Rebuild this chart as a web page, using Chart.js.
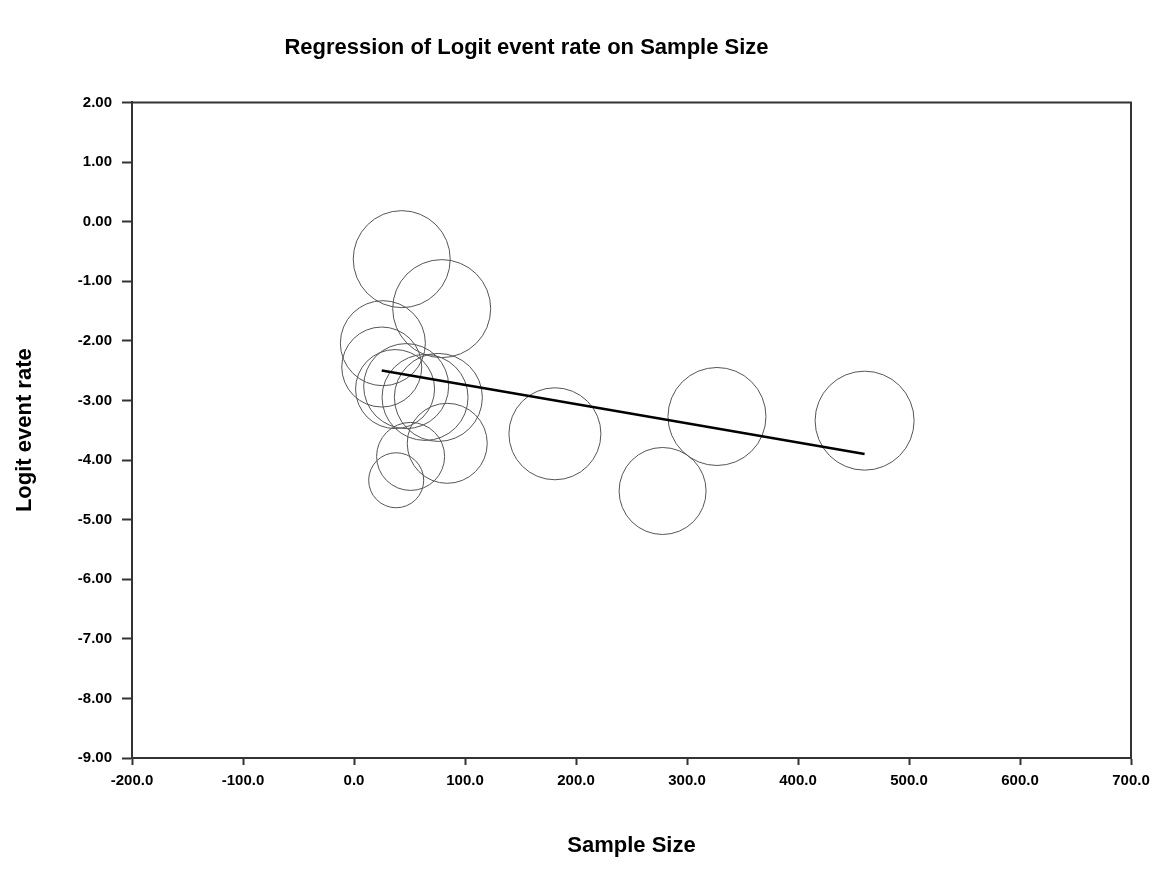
<!DOCTYPE html>
<html>
<head>
<meta charset="utf-8">
<title>Regression of Logit event rate on Sample Size</title>
<script src="https://cdn.jsdelivr.net/npm/chart.js@4.4.1/dist/chart.umd.min.js"></script>
<style>
  html, body { margin: 0; padding: 0; background: #fff; }
  #chart { display: block; }
</style>
</head>
<body>
<canvas id="chart" width="1153" height="875"></canvas>
<script>
// studies: sample size, logit event rate, relative weight (circle size)
const sampleSize = [43, 79, 26, 25, 37, 47, 64, 76, 51, 38, 84, 181, 278, 327, 460];
const logitRate  = [-0.63, -1.46, -2.04, -2.44, -2.81, -2.76, -2.95, -2.95, -3.94, -4.34, -3.72, -3.56, -4.52, -3.27, -3.34];
const weights    = [0.97, 0.98, 0.85, 0.80, 0.79, 0.85, 0.86, 0.88, 0.68, 0.55, 0.80, 0.92, 0.87, 0.98, 0.99];

// regression line end points
const regX = [25, 460];
const regY = [-2.50, -3.90];

const xTicks = [-200, -100, 0, 100, 200, 300, 400, 500, 600, 700];
const yTicks = [2, 1, 0, -1, -2, -3, -4, -5, -6, -7, -8, -9];

const RADIUS_PER_WEIGHT = 50;
const FONT = "'Liberation Sans', Arial, Helvetica, sans-serif";

const bubbles = sampleSize.map((x, i) => ({ x: x, y: logitRate[i], r: weights[i] * RADIUS_PER_WEIGHT }));
const regLine = regX.map((x, i) => ({ x: x, y: regY[i] }));

// top and right sides of the plot frame
const frameBox = {
    id: 'frameBox',
    afterLayout(chart) {
        // the title sits a bit left of the page centre
        if (chart.titleBlock) {
            chart.titleBlock.left = 0;
            chart.titleBlock.right = chart.width - 100;
        }
    },
    afterDraw(chart) {
        const { ctx, chartArea: a } = chart;
        ctx.save();
        ctx.strokeStyle = '#333';
        ctx.lineWidth = 2;
        ctx.beginPath();
        ctx.moveTo(a.left, a.top);
        ctx.lineTo(a.right, a.top);
        ctx.lineTo(a.right, a.bottom);
        ctx.stroke();
        ctx.restore();
    }
};

new Chart(document.getElementById('chart'), {
    type: 'bubble',
    data: {
        datasets: [
            {
                type: 'line',
                data: regLine,
                borderColor: '#000',
                borderWidth: 2.5,
                pointRadius: 0,
                fill: false,
                order: 0
            },
            {
                type: 'bubble',
                data: bubbles,
                backgroundColor: 'rgba(0,0,0,0)',
                borderColor: '#555',
                borderWidth: 1,
                order: 1
            }
        ]
    },
    options: {
        responsive: false,
        animation: false,
        layout: { padding: 0, autoPadding: false },
        plugins: {
            legend: { display: false },
            tooltip: { enabled: false },
            title: {
                display: true,
                text: 'Regression of Logit event rate on Sample Size',
                color: '#000',
                font: { family: FONT, size: 22, weight: 'bold' },
                padding: { top: 35, bottom: 41 }
            }
        },
        scales: {
            x: {
                type: 'linear',
                min: -200,
                max: 700,
                afterBuildTicks: s => { s.ticks = xTicks.map(v => ({ value: v })); },
                afterFit: s => { s.height = 117; s.paddingRight = 22; s.paddingLeft = 0; },
                ticks: {
                    color: '#000',
                    font: { family: FONT, size: 15, weight: 'bold' },
                    padding: 7,
                    maxRotation: 0,
                    callback: v => Number(v).toFixed(1)
                },
                grid: { drawOnChartArea: false, drawTicks: true, tickLength: 7, color: '#333', tickWidth: 2 },
                border: { display: true, color: '#333', width: 2 },
                title: {
                    display: true,
                    text: 'Sample Size',
                    color: '#000',
                    font: { family: FONT, size: 22, weight: 'bold' },
                    padding: { top: 0, bottom: 16 }
                }
            },
            y: {
                type: 'linear',
                min: -9,
                max: 2,
                afterBuildTicks: s => { s.ticks = yTicks.map(v => ({ value: v })); },
                afterFit: s => { s.width = 132; },
                ticks: {
                    color: '#000',
                    font: { family: FONT, size: 15, weight: 'bold' },
                    padding: 10,
                    callback: v => Number(v).toFixed(2)
                },
                grid: { drawOnChartArea: false, drawTicks: true, tickLength: 10, color: '#333', tickWidth: 2 },
                border: { display: true, color: '#333', width: 2 },
                title: {
                    display: true,
                    text: 'Logit event rate',
                    color: '#000',
                    font: { family: FONT, size: 22, weight: 'bold' },
                    padding: { top: 12, bottom: 0 }
                }
            }
        }
    },
    plugins: [frameBox]
});
</script>
</body>
</html>
